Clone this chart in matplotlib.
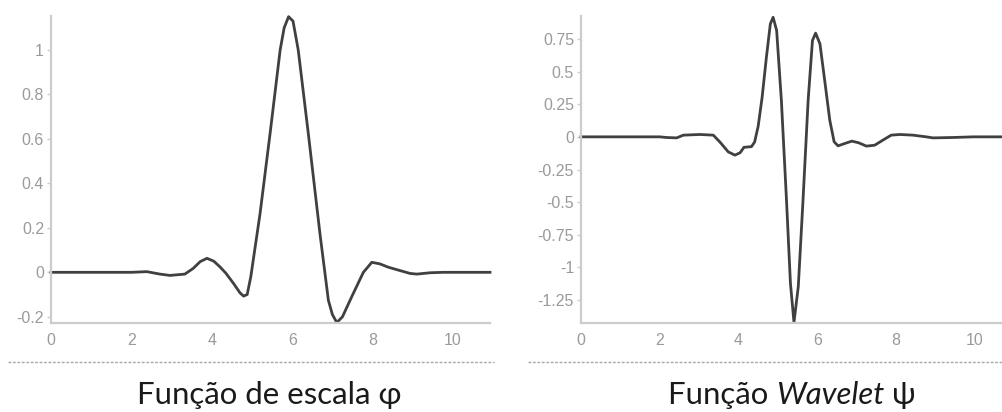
import numpy as np
import matplotlib
matplotlib.use("Agg")
import matplotlib.pyplot as plt
from matplotlib.lines import Line2D

plt.rcParams['axes.unicode_minus'] = False
plt.rcParams['font.family'] = ['Liberation Sans', 'DejaVu Sans']

# scaling function phi
phi_x = [0, 1.0, 2.0, 2.38, 2.71, 2.96, 3.33, 3.54, 3.71, 3.88, 4.05, 4.2, 4.35, 4.54, 4.70,
         4.79, 4.88, 4.97, 5.2, 5.45, 5.70, 5.80, 5.91, 6.02, 6.15, 6.40, 6.69, 6.90, 7.0,
         7.11, 7.25, 7.48, 7.77, 7.98, 8.18, 8.39, 8.64, 8.93, 9.10, 9.43, 9.76, 10.3, 10.92]
phi_y = [0, 0, 0, 0.003, -0.008, -0.014, -0.008, 0.018, 0.048, 0.063, 0.05, 0.025, -0.004, -0.05, -0.092,
         -0.107, -0.1, -0.02, 0.264, 0.625, 1.0, 1.10, 1.15, 1.13, 1.0, 0.625, 0.174, -0.126, -0.19,
         -0.226, -0.2, -0.11, 0.0, 0.045, 0.038, 0.023, 0.01, -0.005, -0.008, -0.002, 0.0, 0.0, 0.0]

# wavelet function psi
psi_x = [0, 1.0, 2.0, 2.17, 2.43, 2.60, 3.02, 3.36, 3.53, 3.74, 3.91, 4.04, 4.14, 4.33, 4.41,
         4.50, 4.60, 4.71, 4.81, 4.88, 4.97, 5.09, 5.22, 5.32, 5.41, 5.52, 5.64, 5.77, 5.88,
         5.96, 6.07, 6.19, 6.32, 6.43, 6.53, 6.70, 6.88, 7.05, 7.25, 7.46, 7.67, 7.88, 8.10,
         8.43, 8.77, 8.94, 9.45, 9.96, 10.72]
psi_y = [0, 0, 0, -0.005, -0.008, 0.013, 0.018, 0.013, -0.04, -0.115, -0.14, -0.122, -0.08, -0.075, -0.04,
         0.08, 0.30, 0.61, 0.865, 0.915, 0.814, 0.28, -0.483, -1.12, -1.42, -1.145, -0.483, 0.28, 0.738,
         0.794, 0.712, 0.433, 0.127, -0.038, -0.069, -0.051, -0.033, -0.045, -0.071, -0.064, -0.025, 0.013, 0.018,
         0.013, 0, -0.008, -0.005, 0, 0]

x_ticks = [0, 2, 4, 6, 8, 10]
phi_yticks = [-0.2, 0, 0.2, 0.4, 0.6, 0.8, 1]
psi_yticks = [-1.25, -1, -0.75, -0.5, -0.25, 0, 0.25, 0.5, 0.75]
titles = ["Função de escala φ", ("Função ", "Wavelet", " ψ")]

W, H = 1003, 412
fig = plt.figure(figsize=(W / 100, H / 100), dpi=100)

def px_axes(x0, x1, y0, y1):
    return fig.add_axes([x0 / W, 1 - y1 / H, (x1 - x0) / W, (y1 - y0) / H])

ax1 = px_axes(51, 490, 16, 323)
ax2 = px_axes(581, 1003, 16, 323)

for ax, xs, ys, yt, lim, xmax in [(ax1, phi_x, phi_y, phi_yticks, (-0.228, 1.153), 10.92),
                                  (ax2, psi_x, psi_y, psi_yticks, (-1.425, 0.925), 10.72)]:
    ax.plot(xs, ys, color="#404040", lw=2.0, solid_joinstyle='round', clip_on=False)
    ax.set_xlim(0, xmax)
    ax.set_ylim(*lim)
    ax.set_xticks(x_ticks)
    ax.set_yticks(yt)
    ax.set_yticklabels(["%g" % v for v in yt])
    for s in ["top", "right"]:
        ax.spines[s].set_visible(False)
    for s in ["left", "bottom"]:
        ax.spines[s].set_color("#cccccc")
        ax.spines[s].set_linewidth(1.6)
    ax.tick_params(axis='y', length=3, width=1, color="#cccccc", pad=2, labelsize=11.5, labelcolor="#9a9a9a")
    ax.tick_params(axis='x', length=0, pad=7, labelsize=11.5, labelcolor="#9a9a9a")

# dotted separators
sep_y = 1 - 362 / H
fig.add_artist(Line2D([8 / W, 494 / W], [sep_y, sep_y], color="#a8a8a8", lw=1.0, linestyle=(0, (2, 1.2))))
fig.add_artist(Line2D([528 / W, 1.0], [sep_y, sep_y], color="#a8a8a8", lw=1.0, linestyle=(0, (2, 1.2))))

# captions
cap_font = ['Lato', 'DejaVu Sans']
cap_y = 1 - 395 / H
fig.text(269 / W, cap_y, titles[0], ha='center', va='center', fontsize=22.4, family=cap_font, color="#1a1a1a")

fig.canvas.draw()
r = fig.canvas.get_renderer()
parts = []
for txt, style in zip(titles[1], ['normal', 'italic', 'normal']):
    t = fig.text(0, cap_y, txt, ha='left', va='center', fontsize=22.4, family=cap_font, style=style, color="#1a1a1a")
    parts.append(t)
widths = [t.get_window_extent(r).width for t in parts]
x = 792 - sum(widths) / 2
for t, w in zip(parts, widths):
    t.set_x(x / W)
    x += w

fig.savefig("out.png", dpi=100)
